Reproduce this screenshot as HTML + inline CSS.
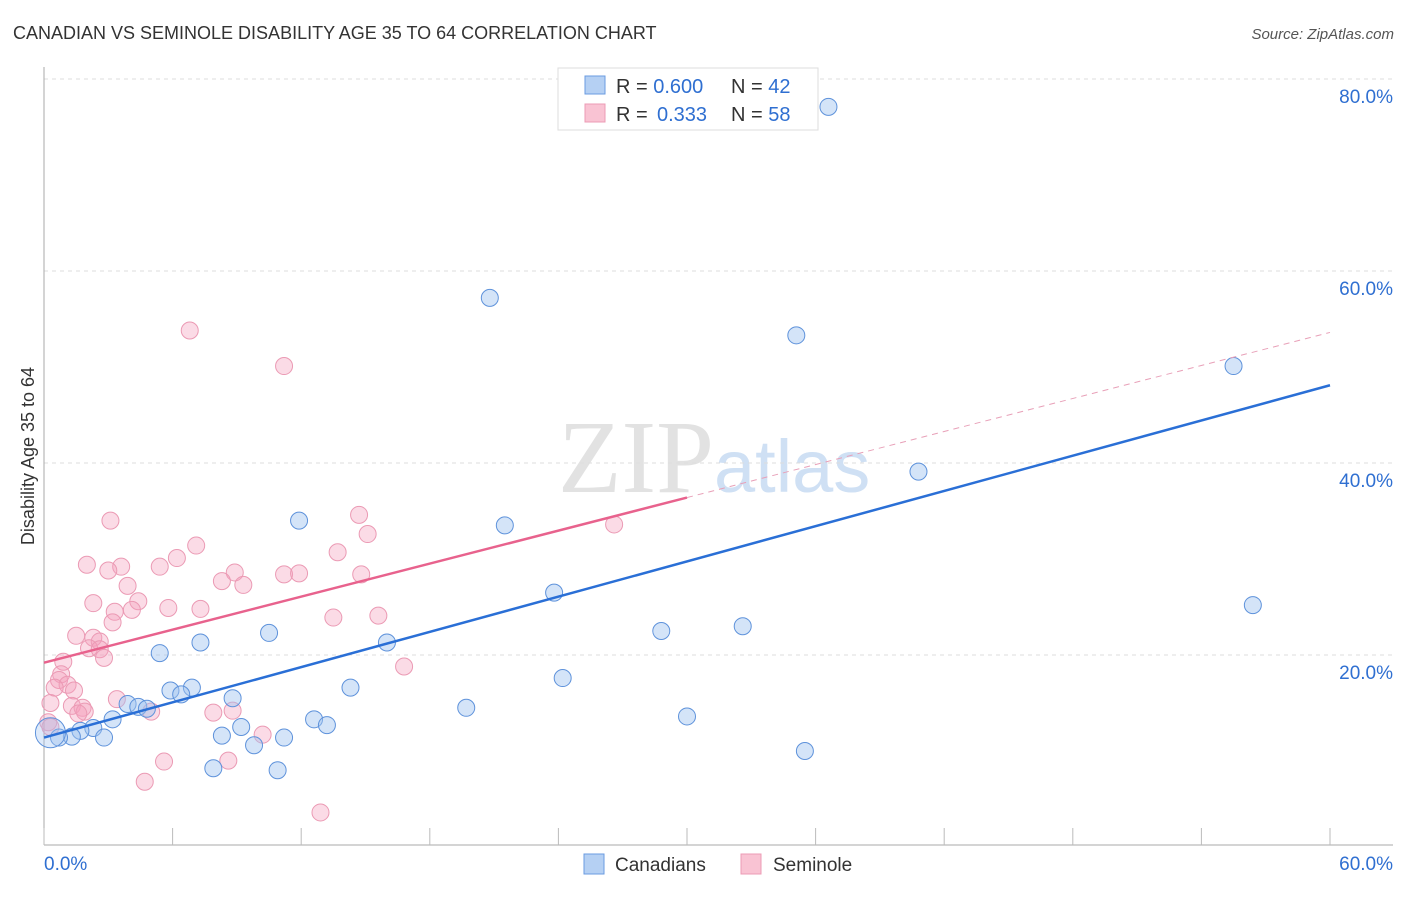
<!DOCTYPE html>
<html><head><meta charset="utf-8"><style>
body{margin:0;background:#fff;font-family:"Liberation Sans",sans-serif}
svg text{font-family:"Liberation Sans",sans-serif}
</style></head><body>
<svg id="chart" width="1406" height="892" viewBox="0 0 1406 892">
<text x="13" y="39" font-size="18" fill="#333">CANADIAN VS SEMINOLE DISABILITY AGE 35 TO 64 CORRELATION CHART</text>
<text x="1394" y="39" font-size="15" fill="#555" font-style="italic" text-anchor="end">Source: ZipAtlas.com</text>
<text x="714" y="492" font-size="104" fill="#e2e2e2" text-anchor="end" style="font-family:'Liberation Serif',serif">ZIP</text>
<text x="714" y="492" font-size="74" fill="#cfe0f4">atlas</text>
<g id="grid"></g>
<g id="axes"></g>
<g id="marks"></g>
<text transform="translate(34,456) rotate(-90)" font-size="18" fill="#333" text-anchor="middle">Disability Age 35 to 64</text>
<g>
<rect x="558" y="68" width="260" height="62" fill="#fff" stroke="#ddd"/>
<rect x="585" y="76" width="20" height="18" fill="#b5d0f3" stroke="#6a9be0"/>
<rect x="585" y="104" width="20" height="18" fill="#f9c3d3" stroke="#ec9bb5"/>
<text x="616" y="93" font-size="20" fill="#333">R = <tspan fill="#2f6fd1">0.600</tspan><tspan x="731">N = </tspan><tspan fill="#2f6fd1">42</tspan></text>
<text x="616" y="121" font-size="20" fill="#333">R = <tspan fill="#2f6fd1" x="657">0.333</tspan><tspan x="731">N = </tspan><tspan fill="#2f6fd1">58</tspan></text>
</g>
<g>
<rect x="584" y="854" width="20" height="20" fill="#b5d0f3" stroke="#6a9be0"/>
<text x="615" y="871" font-size="19" fill="#333">Canadians</text>
<rect x="741" y="854" width="20" height="20" fill="#f9c3d3" stroke="#ec9bb5"/>
<text x="773" y="871" font-size="19" fill="#333">Seminole</text>
</g>
</svg>
<script>
const xTickLabels=["0.0%","60.0%"];
const yTicks=[20,40,60,80];
const yTickLabels=["20.0%","40.0%","60.0%","80.0%"];
const canX=[36.6,20.8,35.1,55.5,40.8,21.5,11.9,23.8,56.4,32.6,28.8,10.5,16.0,7.3,5.4,24.2,14.3,6.9,5.9,6.4,8.8,3.9,4.4,4.8,19.7,30.0,3.2,12.6,13.2,9.2,2.3,1.7,8.3,11.2,2.8,1.3,0.7,9.8,35.5,7.9,10.9,0.3];
const canY=[77.1,57.2,53.3,50.1,39.1,33.5,34.0,26.5,25.2,23.0,22.5,22.3,21.3,21.3,20.2,17.6,16.6,16.6,16.3,15.9,15.5,14.9,14.6,14.4,14.5,13.6,13.3,13.3,12.7,12.5,12.4,12.1,11.6,11.4,11.4,11.5,11.4,10.6,10.0,8.2,8.0,11.9];
const semX=[6.8,11.2,3.1,14.7,15.1,26.6,7.1,13.7,6.2,2.0,5.4,3.6,3.0,8.9,11.2,11.9,14.8,8.3,9.3,3.9,4.4,2.3,5.8,7.3,4.1,3.3,13.5,15.6,3.2,1.5,2.3,2.6,2.1,2.6,2.8,0.9,16.8,0.8,0.7,1.1,0.5,1.4,3.4,0.3,1.3,1.8,1.9,5.0,1.6,7.9,8.8,10.2,0.2,5.6,8.6,4.7,12.9,0.3];
const semY=[53.8,50.1,34.0,34.6,32.6,33.6,31.4,30.7,30.1,29.4,29.2,29.2,28.8,28.6,28.4,28.5,28.4,27.7,27.3,27.2,25.6,25.4,24.9,24.8,24.7,24.5,23.9,24.1,23.4,22.0,21.8,21.4,20.7,20.6,19.7,19.3,18.8,18.0,17.4,16.9,16.6,16.3,15.4,15.0,14.7,14.5,14.1,14.1,13.9,14.0,14.2,11.7,13.0,8.9,9.0,6.8,3.6,12.5];
const canTrend=[11.4,48.1];
const semTrend=[19.2,53.6];
const semSolidEnd=30;

const X=v=>44+v/60*1286;
const Y=v=>847-v*9.6;
const NS="http://www.w3.org/2000/svg";
function mk(parent,tag,attrs){const e=document.createElementNS(NS,tag);for(const k in attrs)e.setAttribute(k,attrs[k]);document.getElementById(parent).appendChild(e);return e;}
yTicks.forEach((t,i)=>{
 const l=mk('grid','line',{x1:44,x2:1393,y1:Y(t),y2:Y(t),stroke:'#ddd','stroke-dasharray':'4,4'});
 
 
 const tx=mk('grid','text',{x:1393,y:Y(t)+24,'font-size':19,fill:'#2f6fd1','text-anchor':'end'});tx.textContent=yTickLabels[i];
 
 
});
let a=mk('axes','line',{x1:44,x2:44,y1:67,y2:845,stroke:'#aaa'});


a=mk('axes','line',{x1:44,x2:1393,y1:845,y2:845,stroke:'#aaa'});


for(let i=0;i<=10;i++){const t=mk('axes','line',{x1:X(i*6),x2:X(i*6),y1:828,y2:845,stroke:'#bbb'});
 
 }
let t0=mk('axes','text',{x:44,y:870,'font-size':19,fill:'#2f6fd1'});t0.textContent=xTickLabels[0];


let t1=mk('axes','text',{x:1393,y:870,'font-size':19,fill:'#2f6fd1','text-anchor':'end'});t1.textContent=xTickLabels[1];


semX.forEach((x,i)=>{const c=mk('marks','circle',{cx:X(x),cy:Y(semY[i]),r:8.5,fill:'rgba(244,160,188,0.38)',stroke:'#eb9ab4','stroke-width':1});
 
 });
canX.forEach((x,i)=>{const big=i===canX.length-1;const c=mk('marks','circle',{cx:X(x),cy:Y(canY[i]),r:big?15:8.5,fill:big?'rgba(160,196,240,0.35)':'rgba(160,196,240,0.45)',stroke:'#5e92db','stroke-width':1});
 
 });
const semAt=v=>semTrend[0]+(semTrend[1]-semTrend[0])*v/60;
let l=mk('marks','line',{x1:X(0),y1:Y(canTrend[0]),x2:X(60),y2:Y(canTrend[1]),stroke:'#2a6fd6','stroke-width':2.5});


l=mk('marks','line',{x1:X(0),y1:Y(semAt(0)),x2:X(semSolidEnd),y2:Y(semAt(semSolidEnd)),stroke:'#e8628d','stroke-width':2.5});


l=mk('marks','line',{x1:X(semSolidEnd),y1:Y(semAt(semSolidEnd)),x2:X(60),y2:Y(semAt(60)),stroke:'#e8a0b8','stroke-width':1,'stroke-dasharray':'6,5'});


</script>
</body></html>
